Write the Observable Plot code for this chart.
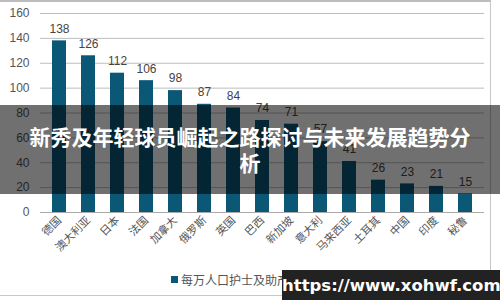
<!DOCTYPE html>
<html>
<head>
<meta charset="utf-8">
<script src="https://cdn.jsdelivr.net/npm/d3@7"></script>
<script src="https://cdn.jsdelivr.net/npm/@observablehq/plot@0.6"></script>
<style>
  html, body { margin: 0; padding: 0; background: #fff; }
  #wrap { position: relative; width: 500px; height: 300px; overflow: hidden;
    font-family: "Liberation Sans", "Noto Sans CJK SC", sans-serif; }
  #frame { position: absolute; left: -2px; top: 0; width: 493px; height: 296px;
    border: 1px solid #c8c8c8; border-top: 2px solid #bdbdbd; box-sizing: border-box; }
  #chart { position: absolute; left: 0; top: 0; }
  #legend { position: absolute; left: 171px; top: 271px; font-size: 12px; color: #555;
    font-family: "Noto Sans CJK SC", sans-serif; display: flex; align-items: center; white-space: nowrap; }
  #legend span.sw { display: inline-block; width: 7px; height: 7px; background: #0b5876; margin-right: 3px; }
  #banner { position: absolute; left: 0; top: 105px; width: 500px; height: 89px;
    background: rgba(0,0,0,0.56); color: #fff; text-align: center;
    font-family: "Noto Sans CJK SC", sans-serif; font-weight: bold; font-size: 21px;
    line-height: 26px; padding-top: 18px; box-sizing: border-box; }
  #wm { position: absolute; left: 282px; top: 270px; width: 218px; height: 30px;
    background: #222; color: #fff; font-weight: bold; font-size: 16.5px;
    font-family: "DejaVu Sans", sans-serif; line-height: 32px; text-align: center; white-space: nowrap; }
</style>
</head>
<body>
<div id="wrap">
  <div id="chart"></div>
  <div id="frame"></div>
  <div id="legend"><span class="sw"></span>每万人口护士及助产士数</div>
  <div id="banner">新秀及年轻球员崛起之路探讨与未来发展趋势分<br>析</div>
  <div id="wm">https://www.xohwf.com</div>
</div>
<script>
const countries = ["德国","澳大利亚","日本","法国","加拿大","俄罗斯","英国","巴西","新加坡","意大利","马来西亚","土耳其","中国","印度","秘鲁"];
const values = [138,126,112,106,98,87,84,74,71,57,41,26,23,21,15];
const yTicks = [0,20,40,60,80,100,120,140,160];

const data = countries.map((c, i) => ({country: c, value: values[i]}));

const chart = Plot.plot({
  width: 500,
  height: 266,
  marginLeft: 40,
  marginRight: 16,
  marginTop: 13,
  marginBottom: 54,
  style: {fontFamily: '"Liberation Sans", "Noto Sans CJK SC", sans-serif', background: "transparent"},
  x: {domain: countries, paddingInner: 0.53, paddingOuter: 0.24, label: null},
  y: {domain: [0, 160], label: null},
  marks: [
    Plot.gridY(yTicks, {stroke: "#bdbdbd", strokeOpacity: 1, strokeWidth: 1}),
    Plot.axisY(yTicks, {tickSize: 0, tickPadding: 11, fontSize: 12, fill: "#555", label: null}),
    Plot.barY(data, {x: "country", y: "value", fill: "#0b5876"}),
    Plot.ruleY([0], {stroke: "#aaa"}),
    Plot.text(data, {x: "country", y: "value", text: d => String(d.value), dy: -12, fontSize: 12, fill: "#444"}),
    Plot.axisX({tickSize: 0, tickPadding: 6, tickRotate: -45, fontSize: 11, fill: "#555", label: null,
      fontFamily: '"Noto Sans CJK SC", sans-serif'})
  ]
});
document.getElementById("chart").appendChild(chart);
</script>
</body>
</html>
